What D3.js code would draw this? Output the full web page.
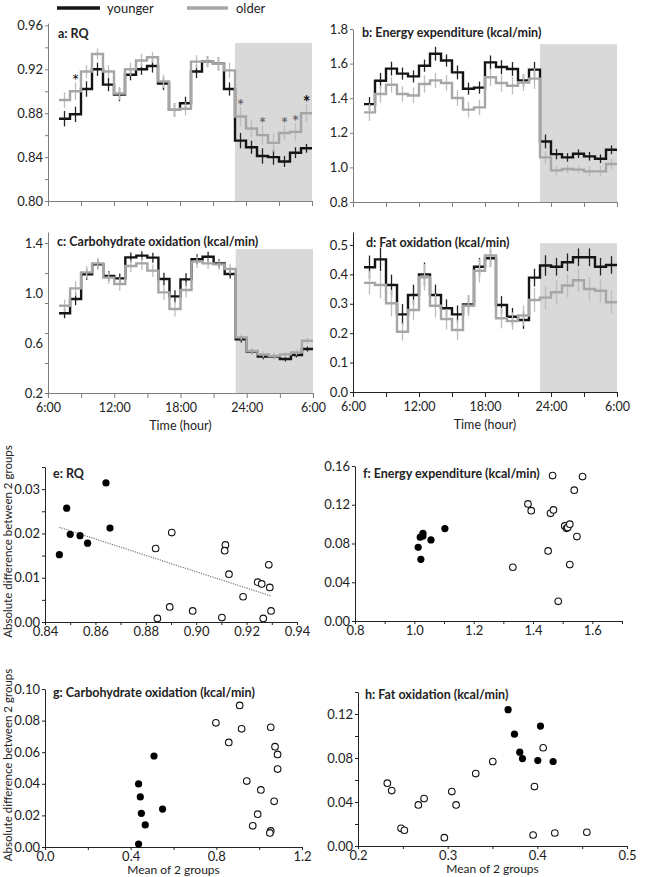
<!DOCTYPE html>
<html>
<head>
<meta charset="utf-8">
<script src="https://cdn.jsdelivr.net/npm/d3@7"></script>
<style>
    body { margin: 0; background: #fff; }
    svg text { font-family: Lato, "Open Sans", sans-serif; fill: #222; }
</style>
</head>
<body>
<svg id="chart" width="649" height="877"></svg>
<script>
// Data
// hour at which each hourly bin starts (7:00 ... 5:00 next day, written as 29)
const hourStart = [7, 8, 9, 10, 11, 12, 13, 14, 15, 16, 17, 18, 19, 20, 21, 22, 23, 24, 25, 26, 27, 28, 29];
const timeTicks = [6, 9, 12, 15, 18, 21, 24, 27, 30];
const timeLabelHours = [6, 12, 18, 24, 30];
const timeLabels = ['6:00', '12:00', '18:00', '24:00', '6:00'];

// a: RQ
const aYoung = [0.875, 0.879, 0.902, 0.920, 0.906, 0.897, 0.915, 0.920, 0.923, 0.907, 0.883, 0.889, 0.918, 0.927, 0.925, 0.902,
    0.855, 0.849, 0.841, 0.840, 0.836, 0.844, 0.848];
const aOlder = [0.892, 0.900, 0.918, 0.934, 0.918, 0.898, 0.920, 0.928, 0.931, 0.909, 0.883, 0.884, 0.927, 0.927, 0.925, 0.919,
    0.877, 0.866, 0.860, 0.853, 0.862, 0.863, 0.880];
const aYoungSE = [0.007, 0.007, 0.007, 0.006, 0.006, 0.006, 0.005, 0.005, 0.006, 0.006, 0.006, 0.006, 0.006, 0.005, 0.006, 0.006,
    0.007, 0.006, 0.007, 0.007, 0.005, 0.005, 0.004];
const aOlderSE = [0.007, 0.008, 0.006, 0.005, 0.006, 0.006, 0.006, 0.006, 0.005, 0.006, 0.006, 0.006, 0.006, 0.005, 0.006, 0.007,
    0.009, 0.008, 0.009, 0.008, 0.007, 0.008, 0.008];
const aStars = [1, 16, 18, 20, 21, 22];

// b: Energy expenditure
const bYoung = [1.366, 1.501, 1.571, 1.542, 1.526, 1.588, 1.657, 1.618, 1.549, 1.455, 1.461, 1.607, 1.580, 1.569, 1.503, 1.565,
    1.150, 1.077, 1.058, 1.079, 1.064, 1.050, 1.102];
const bOlder = [1.318, 1.424, 1.478, 1.424, 1.416, 1.482, 1.503, 1.488, 1.401, 1.334, 1.347, 1.521, 1.488, 1.472, 1.491, 1.513,
    1.058, 0.983, 0.991, 0.987, 0.977, 0.977, 1.020];
const bYoungSE = [0.040, 0.045, 0.040, 0.035, 0.035, 0.035, 0.040, 0.035, 0.040, 0.035, 0.035, 0.040, 0.040, 0.040, 0.035, 0.045,
    0.040, 0.030, 0.025, 0.025, 0.025, 0.025, 0.025];
const bOlderSE = [0.050, 0.050, 0.045, 0.045, 0.045, 0.050, 0.045, 0.045, 0.045, 0.045, 0.045, 0.050, 0.050, 0.050, 0.050, 0.060,
    0.035, 0.030, 0.025, 0.025, 0.030, 0.030, 0.030];

// c: Carbohydrate oxidation
const cYoung = [0.838, 0.952, 1.150, 1.230, 1.136, 1.117, 1.285, 1.299, 1.283, 1.112, 0.973, 1.109, 1.270, 1.290, 1.237, 1.152,
    0.629, 0.531, 0.491, 0.491, 0.472, 0.504, 0.552];
const cOlder = [0.898, 1.037, 1.165, 1.237, 1.123, 1.072, 1.216, 1.237, 1.179, 1.005, 0.872, 1.024, 1.251, 1.237, 1.229, 1.192,
    0.645, 0.536, 0.509, 0.496, 0.509, 0.525, 0.618];
const cYoungSE = [0.040, 0.050, 0.045, 0.040, 0.040, 0.040, 0.040, 0.035, 0.040, 0.050, 0.050, 0.050, 0.040, 0.040, 0.035, 0.035,
    0.025, 0.020, 0.020, 0.020, 0.020, 0.020, 0.020];
const cOlderSE = [0.050, 0.060, 0.050, 0.045, 0.050, 0.055, 0.050, 0.050, 0.050, 0.060, 0.060, 0.060, 0.050, 0.045, 0.045, 0.040,
    0.025, 0.025, 0.025, 0.025, 0.025, 0.025, 0.025];

// d: Fat oxidation
const dYoung = [0.424, 0.451, 0.364, 0.264, 0.330, 0.400, 0.330, 0.285, 0.264, 0.298, 0.426, 0.455, 0.296, 0.256, 0.245, 0.389,
    0.430, 0.426, 0.441, 0.458, 0.458, 0.426, 0.432];
const dOlder = [0.371, 0.364, 0.302, 0.205, 0.279, 0.390, 0.293, 0.248, 0.211, 0.293, 0.412, 0.464, 0.251, 0.241, 0.260, 0.313,
    0.321, 0.339, 0.362, 0.380, 0.350, 0.344, 0.305];
const dYoungSE = [0.040, 0.040, 0.035, 0.035, 0.035, 0.040, 0.035, 0.030, 0.030, 0.030, 0.030, 0.030, 0.030, 0.030, 0.030, 0.030,
    0.035, 0.030, 0.030, 0.030, 0.030, 0.030, 0.030];
const dOlderSE = [0.040, 0.045, 0.045, 0.030, 0.035, 0.045, 0.040, 0.035, 0.035, 0.035, 0.040, 0.040, 0.035, 0.030, 0.035, 0.040,
    0.040, 0.040, 0.040, 0.040, 0.040, 0.040, 0.040];

// e-h: [mean of 2 groups, absolute difference]; night = filled, day = open
const eNight = [[0.8457, 0.0152], [0.8486, 0.0257], [0.8500, 0.0198], [0.8539, 0.0195], [0.8569, 0.0178], [0.8642, 0.0314], [0.8658, 0.0212]];
const eDay = [[0.8839, 0.0166], [0.8903, 0.0202], [0.9116, 0.0174], [0.9113, 0.0161], [0.9130, 0.0108], [0.9288, 0.0129],
    [0.9244, 0.0090], [0.9260, 0.0086], [0.9292, 0.0078], [0.9186, 0.0057], [0.8895, 0.0034], [0.8986, 0.0025],
    [0.9297, 0.0025], [0.8846, 0.0008], [0.9102, 0.0010], [0.9266, 0.0008]];

const fNight = [[1.013, 0.0761], [1.022, 0.0637], [1.020, 0.0865], [1.029, 0.0906], [1.029, 0.0878], [1.056, 0.0837], [1.103, 0.0954]];
const fDay = [[1.332, 0.0555], [1.383, 0.1209], [1.394, 0.1139], [1.466, 0.1501], [1.459, 0.1112], [1.469, 0.1147],
    [1.451, 0.0723], [1.485, 0.0203], [1.507, 0.0981], [1.513, 0.0957], [1.517, 0.0965], [1.524, 0.0999],
    [1.548, 0.0871], [1.524, 0.0582], [1.539, 0.1350], [1.567, 0.1491]];

const gNight = [[0.437, 0.0399], [0.445, 0.0317], [0.450, 0.0213], [0.468, 0.0140], [0.437, 0.0019], [0.509, 0.0576], [0.549, 0.0240]];
const gDay = [[0.798, 0.0786], [0.909, 0.0896], [0.918, 0.0748], [0.858, 0.0662], [1.054, 0.0758], [1.074, 0.0635],
    [1.086, 0.0586], [1.086, 0.0493], [0.942, 0.0417], [1.008, 0.0361], [1.070, 0.0289], [0.993, 0.0208],
    [0.970, 0.0134], [1.054, 0.0102], [1.050, 0.0089]];

const hNight = [[0.3674, 0.1239], [0.3745, 0.1017], [0.4035, 0.1090], [0.3804, 0.0853], [0.3834, 0.0795], [0.4005, 0.0777], [0.4176, 0.0768]];
const hDay = [[0.2327, 0.0571], [0.2376, 0.0504], [0.2480, 0.0161], [0.2517, 0.0143], [0.2673, 0.0373], [0.2737, 0.0431],
    [0.2963, 0.0076], [0.3046, 0.0495], [0.3094, 0.0373], [0.3313, 0.0658], [0.3503, 0.0768], [0.4065, 0.0893],
    [0.3968, 0.0540], [0.3953, 0.0100], [0.4195, 0.0118], [0.4552, 0.0125]];

// Layout
const svg = d3.select('#chart');
const blackLine = '#141414';
const grayLine = '#a6a6a6';

const timePanels = [
    {
        title: 'a: RQ', tx: 58, ty: 38,
        young: aYoung, older: aOlder, youngSE: aYoungSE, olderSE: aOlderSE, stars: aStars,
        xRange: [48, 312], yDomain: [0.80, 0.962], yRange: [201, 23.2], shadeTop: 0.944,
        yTicks: d3.range(0.80, 0.961, 0.02), yLabels: [0.80, 0.84, 0.88, 0.92, 0.96], fmt: d3.format('.2f'),
        axisColor: '#7f7f7f', showTime: false,
    },
    {
        title: 'b: Energy expenditure (kcal/min)', tx: 362, ty: 37,
        young: bYoung, older: bOlder, youngSE: bYoungSE, olderSE: bOlderSE, stars: [],
        xRange: [353, 617], yDomain: [0.8, 1.8], yRange: [202, 29], shadeTop: 1.712,
        yTicks: [0.8, 1.0, 1.2, 1.4, 1.6, 1.8], yLabels: [0.8, 1.0, 1.2, 1.4, 1.6, 1.8], fmt: d3.format('.1f'),
        axisColor: '#7f7f7f', showTime: false,
    },
    {
        title: 'c: Carbohydrate oxidation (kcal/min)', tx: 57, ty: 246,
        young: cYoung, older: cOlder, youngSE: cYoungSE, olderSE: cOlderSE, stars: [],
        xRange: [48, 313], yDomain: [0.2, 1.488], yRange: [393, 232], shadeTop: 1.352,
        yTicks: [0.2, 0.44, 0.68, 0.92, 1.16, 1.4], yLabels: [0.2, 0.6, 1.0, 1.4], fmt: d3.format('.1f'),
        axisColor: '#7f7f7f', showTime: true,
    },
    {
        title: 'd: Fat oxidation (kcal/min)', tx: 366, ty: 247,
        young: dYoung, older: dOlder, youngSE: dYoungSE, olderSE: dOlderSE, stars: [],
        xRange: [353, 617], yDomain: [0, 0.544], yRange: [392, 232], shadeTop: 0.506,
        yTicks: [0, 0.1, 0.2, 0.3, 0.4, 0.5], yLabels: [0, 0.1, 0.2, 0.3, 0.4, 0.5], fmt: d3.format('.1f'),
        axisColor: '#222', showTime: true,
    },
];

const scatterPanels = [
    {
        title: 'e: RQ', tx: 53, ty: 478, night: eNight, day: eDay, trend: true,
        xDomain: [0.84, 0.94], xRange: [45, 297], yDomain: [0, 0.035], yRange: [622, 467],
        xTicks: d3.range(0.84, 0.9401, 0.01), xLabels: [0.84, 0.86, 0.88, 0.90, 0.92, 0.94], xFmt: d3.format('.2f'),
        yTicks: d3.range(0, 0.0351, 0.005), yLabels: [0, 0.01, 0.02, 0.03], yFmt: d3.format('.2f'),
        yTitle: true, xTitle: false,
    },
    {
        title: 'f: Energy expenditure (kcal/min)', tx: 363, ty: 478, night: fNight, day: fDay, trend: false,
        xDomain: [0.8, 1.7], xRange: [355, 622], yDomain: [0, 0.16], yRange: [621, 466],
        xTicks: d3.range(0.8, 1.701, 0.1), xLabels: [0.8, 1.0, 1.2, 1.4, 1.6], xFmt: d3.format('.1f'),
        yTicks: [0, 0.04, 0.08, 0.12, 0.16], yLabels: [0, 0.04, 0.08, 0.12, 0.16], yFmt: d3.format('.2f'),
        yTitle: false, xTitle: false,
    },
    {
        title: 'g: Carbohydrate oxidation (kcal/min)', tx: 53, ty: 697, night: gNight, day: gDay, trend: false,
        xDomain: [0, 1.2], xRange: [45, 302], yDomain: [0, 0.1], yRange: [847, 689],
        xTicks: d3.range(0, 1.201, 0.2), xLabels: [0, 0.4, 0.8, 1.2], xFmt: d3.format('.1f'),
        yTicks: d3.range(0, 0.1001, 0.02), yLabels: [0, 0.02, 0.04, 0.06, 0.08, 0.10], yFmt: d3.format('.2f'),
        yTitle: true, xTitle: true,
    },
    {
        title: 'h: Fat oxidation (kcal/min)', tx: 365, ty: 699, night: hNight, day: hDay, trend: false,
        xDomain: [0.2, 0.5], xRange: [358, 627], yDomain: [0, 0.14], yRange: [846, 692],
        xTicks: d3.range(0.2, 0.5001, 0.05), xLabels: [0.2, 0.3, 0.4, 0.5], xFmt: d3.format('.1f'),
        yTicks: d3.range(0, 0.1401, 0.02), yLabels: [0, 0.04, 0.08, 0.12], yFmt: d3.format('.2f'),
        yTitle: false, xTitle: true,
    },
];

function styleAxis(g, color) {
    g.selectAll('path, line').attr('stroke', color).attr('stroke-width', 1);
    g.selectAll('text').style('font-size', '13px').attr('fill', '#222');
}

function drawTimePanel(p) {
    const xScale = d3.scaleLinear().domain([6, 30]).range(p.xRange);
    const yScale = d3.scaleLinear().domain(p.yDomain).range(p.yRange);
    const ctr = svg.append('g');
    const yBase = p.yDomain[0];

    // night shading
    ctr.append('rect')
        .attr('x', xScale(23))
        .attr('width', xScale(30) - xScale(23))
        .attr('y', yScale(p.shadeTop))
        .attr('height', yScale(yBase) - yScale(p.shadeTop))
        .attr('fill', '#d9d9d9');

    // y axis: tick marks, then labels
    const yTickAxis = ctr.append('g')
        .attr('transform', `translate(${p.xRange[0]},0)`)
        .call(d3.axisLeft(yScale).tickValues(p.yTicks).tickSize(3).tickSizeOuter(0).tickFormat(''));
    styleAxis(yTickAxis, p.axisColor);
    const yLabelAxis = ctr.append('g')
        .attr('transform', `translate(${p.xRange[0]},0)`)
        .call(d3.axisLeft(yScale).tickValues(p.yLabels).tickSize(0).tickPadding(5).tickFormat(p.fmt));
    yLabelAxis.select('.domain').remove();
    styleAxis(yLabelAxis, p.axisColor);

    // x axis
    const xAxisGroup = ctr.append('g')
        .attr('transform', `translate(0,${yScale(yBase)})`)
        .call(d3.axisBottom(xScale).tickValues(timeTicks).tickSize(5).tickSizeOuter(0).tickFormat(''));
    styleAxis(xAxisGroup, p.axisColor);
    if (p.showTime) {
        const xLabels = ctr.append('g')
            .attr('transform', `translate(0,${yScale(yBase)})`)
            .call(d3.axisBottom(xScale).tickValues(timeLabelHours).tickSize(0).tickPadding(10)
                .tickFormat((d, i) => timeLabels[i]));
        xLabels.select('.domain').remove();
        styleAxis(xLabels, p.axisColor);
        xLabels.selectAll('text').style('font-size', '12.5px');
        ctr.append('text')
            .attr('x', (p.xRange[0] + p.xRange[1]) / 2)
            .attr('y', yScale(yBase) + 37)
            .attr('text-anchor', 'middle')
            .style('font-size', '12.5px')
            .text('Time (hour)');
    }

    // series
    const series = [
        { values: p.young, se: p.youngSE, line: blackLine, bar: '#222' },
        { values: p.older, se: p.olderSE, line: grayLine, bar: '#bdbdbd' },
    ];
    const stepLine = d3.line()
        .x(d => xScale(d[0]))
        .y(d => yScale(d[1]))
        .curve(d3.curveStepAfter);

    series.forEach(s => {
        ctr.append('g')
            .selectAll('line')
            .data(s.values)
            .join('line')
            .attr('x1', (d, i) => xScale(hourStart[i] + 0.5))
            .attr('x2', (d, i) => xScale(hourStart[i] + 0.5))
            .attr('y1', (d, i) => yScale(d - s.se[i]))
            .attr('y2', (d, i) => yScale(d + s.se[i]))
            .attr('stroke', s.bar)
            .attr('stroke-width', 1.3);

        const pts = s.values.map((v, i) => [hourStart[i], v]);
        pts.push([hourStart[hourStart.length - 1] + 1, s.values[s.values.length - 1]]);
        ctr.append('path')
            .attr('d', stepLine(pts))
            .attr('fill', 'none')
            .attr('stroke', s.line)
            .attr('stroke-width', 2.4);
    });

    // significance stars above the older group's error bar
    const darkStars = new Set([1, 22]);
    ctr.selectAll('.star')
        .data(p.stars)
        .join('text')
        .classed('star', true)
        .attr('x', i => xScale(hourStart[i] + 0.5))
        .attr('y', i => yScale(p.older[i] + p.olderSE[i]) + 5)
        .attr('text-anchor', 'middle')
        .style('font-size', '18px')
        .style('font-weight', i => (i === 22 ? 'bold' : 'normal'))
        .style('fill', i => (darkStars.has(i) ? '#111' : '#555'))
        .text('*');

    ctr.append('text')
        .attr('x', p.tx)
        .attr('y', p.ty)
        .style('font-size', '12.5px')
        .style('font-weight', 'bold')
        .text(p.title);
}

function drawScatterPanel(p) {
    const xScale = d3.scaleLinear().domain(p.xDomain).range(p.xRange);
    const yScale = d3.scaleLinear().domain(p.yDomain).range(p.yRange);
    const ctr = svg.append('g');
    const axisColor = '#222';

    const yTickAxis = ctr.append('g')
        .attr('transform', `translate(${p.xRange[0]},0)`)
        .call(d3.axisLeft(yScale).tickValues(p.yTicks).tickSize(3).tickSizeOuter(0).tickFormat(''));
    styleAxis(yTickAxis, axisColor);
    const yLabelAxis = ctr.append('g')
        .attr('transform', `translate(${p.xRange[0]},0)`)
        .call(d3.axisLeft(yScale).tickValues(p.yLabels).tickSize(0).tickPadding(5).tickFormat(p.yFmt));
    yLabelAxis.select('.domain').remove();
    styleAxis(yLabelAxis, axisColor);

    const xTickAxis = ctr.append('g')
        .attr('transform', `translate(0,${p.yRange[0]})`)
        .call(d3.axisBottom(xScale).tickValues(p.xTicks).tickSize(3).tickSizeOuter(0).tickFormat(''));
    styleAxis(xTickAxis, axisColor);
    const xLabelAxis = ctr.append('g')
        .attr('transform', `translate(0,${p.yRange[0]})`)
        .call(d3.axisBottom(xScale).tickValues(p.xLabels).tickSize(0).tickPadding(5).tickFormat(p.xFmt));
    xLabelAxis.select('.domain').remove();
    styleAxis(xLabelAxis, axisColor);

    if (p.trend) {
        const all = p.night.concat(p.day);
        const mx = d3.mean(all, d => d[0]);
        const my = d3.mean(all, d => d[1]);
        const slope = d3.sum(all, d => (d[0] - mx) * (d[1] - my)) / d3.sum(all, d => (d[0] - mx) ** 2);
        const ext = d3.extent(all, d => d[0]);
        ctr.append('line')
            .attr('x1', xScale(ext[0]))
            .attr('x2', xScale(ext[1]))
            .attr('y1', yScale(my + slope * (ext[0] - mx)))
            .attr('y2', yScale(my + slope * (ext[1] - mx)))
            .attr('stroke', '#777')
            .attr('stroke-width', 1.2)
            .attr('stroke-dasharray', '1.2,1.2');
    }

    ctr.append('g')
        .selectAll('circle')
        .data(p.day)
        .join('circle')
        .attr('cx', d => xScale(d[0]))
        .attr('cy', d => yScale(d[1]))
        .attr('r', 3.3)
        .attr('fill', '#fff')
        .attr('stroke', '#111')
        .attr('stroke-width', 1.1);

    ctr.append('g')
        .selectAll('circle')
        .data(p.night)
        .join('circle')
        .attr('cx', d => xScale(d[0]))
        .attr('cy', d => yScale(d[1]))
        .attr('r', 3.6)
        .attr('fill', '#000');

    ctr.append('text')
        .attr('x', p.tx)
        .attr('y', p.ty)
        .style('font-size', '12.5px')
        .style('font-weight', 'bold')
        .text(p.title);

    if (p.yTitle) {
        ctr.append('text')
            .attr('transform', `translate(12,${(p.yRange[0] + p.yRange[1]) / 2 - 3}) rotate(-90)`)
            .attr('text-anchor', 'middle')
            .style('font-size', '11.5px')
            .text('Absolute difference between 2 groups');
    }
    if (p.xTitle) {
        ctr.append('text')
            .attr('x', (p.xRange[0] + p.xRange[1]) / 2)
            .attr('y', p.yRange[0] + 27)
            .attr('text-anchor', 'middle')
            .style('font-size', '12px')
            .text('Mean of 2 groups');
    }
}

// Legend
const legend = svg.append('g');
legend.append('line').attr('x1', 57).attr('x2', 100).attr('y1', 8).attr('y2', 8)
    .attr('stroke', blackLine).attr('stroke-width', 3.5);
legend.append('text').attr('x', 107).attr('y', 12.5).style('font-size', '13px').text('younger');
legend.append('line').attr('x1', 187).attr('x2', 228).attr('y1', 8).attr('y2', 8)
    .attr('stroke', grayLine).attr('stroke-width', 3.5);
legend.append('text').attr('x', 236).attr('y', 12.5).style('font-size', '13px').text('older');

timePanels.forEach(drawTimePanel);
scatterPanels.forEach(drawScatterPanel);
</script>
</body>
</html>
